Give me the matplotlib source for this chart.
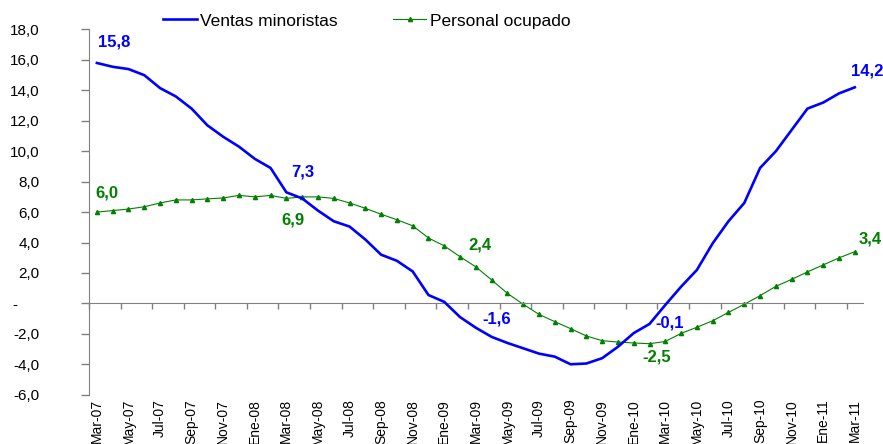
import matplotlib
matplotlib.use("Agg")
import matplotlib.pyplot as plt
import numpy as np

plt.rcParams['font.family'] = ['Liberation Sans', 'DejaVu Sans']

months = ["Mar-07", "Abr-07", "May-07", "Jun-07", "Jul-07", "Ago-07", "Sep-07", "Oct-07",
          "Nov-07", "Dic-07", "Ene-08", "Feb-08", "Mar-08", "Abr-08", "May-08", "Jun-08",
          "Jul-08", "Ago-08", "Sep-08", "Oct-08", "Nov-08", "Dic-08", "Ene-09", "Feb-09",
          "Mar-09", "Abr-09", "May-09", "Jun-09", "Jul-09", "Ago-09", "Sep-09", "Oct-09",
          "Nov-09", "Dic-09", "Ene-10", "Feb-10", "Mar-10", "Abr-10", "May-10", "Jun-10",
          "Jul-10", "Ago-10", "Sep-10", "Oct-10", "Nov-10", "Dic-10", "Ene-11", "Feb-11",
          "Mar-11"]

ventas = [15.8, 15.55, 15.4, 15.0, 14.15, 13.6, 12.8, 11.7, 10.95, 10.3,
          9.5, 8.9, 7.3, 6.9, 6.1, 5.4, 5.05, 4.2, 3.2, 2.8,
          2.1, 0.55, 0.1, -0.9, -1.6, -2.2, -2.6, -2.95, -3.3, -3.5,
          -4.0, -3.95, -3.6, -2.85, -1.95, -1.35, -0.1, 1.1, 2.2, 3.95,
          5.4, 6.6, 8.9, 10.0, 11.4, 12.8, 13.2, 13.8, 14.2]

personal = [6.0, 6.1, 6.2, 6.35, 6.6, 6.8, 6.8, 6.87, 6.93, 7.1,
            7.0, 7.1, 6.9, 7.0, 7.0, 6.9, 6.6, 6.25, 5.86, 5.5,
            5.1, 4.3, 3.78, 3.07, 2.4, 1.54, 0.66, -0.06, -0.72, -1.2,
            -1.66, -2.14, -2.45, -2.54, -2.6, -2.65, -2.5, -1.97, -1.57, -1.14,
            -0.59, -0.06, 0.51, 1.12, 1.58, 2.07, 2.53, 2.99, 3.4]

label_idx = [0, 12, 24, 36, 48]
ventas_offsets = [(17.6, 21), (16, 20), (21, 8.7), (4, -18), (12, 16)]
personal_offsets = [(10, 19), (6.5, -21.5), (3.6, 22), (-9, -16), (15, 12.7)]

yticks = list(range(-6, 19, 2))

BLUE = '#0000FF'
GREEN = '#008000'
GRAY = '#808080'

W, H = 883, 444
fig = plt.figure(figsize=(W / 100, H / 100), dpi=100)
ax = fig.add_axes([89 / W, 1 - 394.7 / H, (862.7 - 89) / W, (394.7 - 29.5) / H])

x = np.arange(len(months))
ax.plot(x, ventas, color=BLUE, lw=1.9, solid_joinstyle='round', label='Ventas minoristas', zorder=3)
ax.plot(x, personal, color=GREEN, lw=0.8, marker='^', ms=3.0, mec=GREEN, mfc=GREEN,
        label='Personal ocupado', zorder=2)

ax.set_xlim(-0.5, len(months) - 0.5)
ax.set_ylim(-6, 18)

for s in ['top', 'right']:
    ax.spines[s].set_visible(False)
ax.spines['left'].set_color(GRAY)
ax.spines['bottom'].set_color(GRAY)
ax.spines['bottom'].set_position(('data', 0))

# tick marks on the zero axis at category boundaries
ax.set_xticks(np.arange(-0.5, len(months) - 1, 2))
ax.set_xticklabels([])
ax.tick_params(axis='x', direction='out', length=4, color=GRAY, width=1)

# category labels at the bottom
sec = ax.secondary_xaxis('bottom')
sec.set_xticks(x[::2])
sec.set_xticklabels(months[::2], rotation=90, fontsize=10, va='top', ha='center')
sec.tick_params(length=0, pad=3)
sec.spines['bottom'].set_visible(False)

def fmt(v):
    if v == 0:
        return '-     '
    return f"{v:.1f}".replace('.', ',')

ax.set_yticks(yticks)
ax.set_yticklabels([fmt(v) for v in yticks], fontsize=11)
ax.tick_params(axis='y', direction='out', length=6, color=GRAY, width=1, pad=47 * 0.72 - 6 * 0.72)

def lab(v):
    return f"{v:.1f}".replace('.', ',')

for i, (dx, dy) in zip(label_idx, ventas_offsets):
    ax.annotate(lab(ventas[i]), (x[i], ventas[i]), xytext=(dx, dy), textcoords='offset pixels',
                ha='center', va='center', color=BLUE, fontweight='bold', fontsize=12,
                annotation_clip=False)
for i, (dx, dy) in zip(label_idx, personal_offsets):
    ax.annotate(lab(personal[i]), (x[i], personal[i]), xytext=(dx, dy), textcoords='offset pixels',
                ha='center', va='center', color=GREEN, fontweight='bold', fontsize=12,
                annotation_clip=False)

fig.legend(loc='center left', bbox_to_anchor=(163 / W, 1 - 21 / H), ncol=2, frameon=False,
           fontsize=12.5, handlelength=1.95, handletextpad=0.2, columnspacing=3.15,
           borderpad=0, borderaxespad=0)

fig.savefig('out.png', dpi=100)
